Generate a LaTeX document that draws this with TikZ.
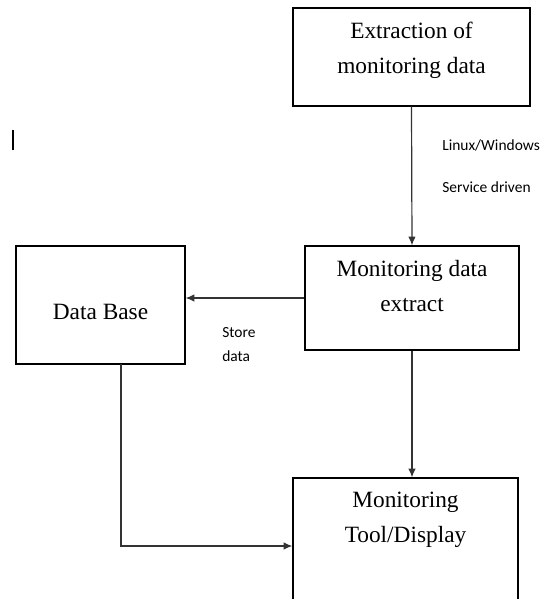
\documentclass[tikz,border=0pt]{standalone}
\usepackage{fontspec}
\setmainfont{Liberation Serif}
\newfontfamily\calibri{Carlito}
\usepackage{tikz}
\usetikzlibrary{calc, arrows.meta}

\begin{document}
\begin{tikzpicture}[x=0.75pt, y=-0.75pt,
    main/.style={draw, rectangle, line width=0.9pt, inner sep=0pt},
    txt/.style={align=center, font=\fontsize{17.5}{26.5}\selectfont, inner sep=0pt},
    lbl/.style={anchor=west, font=\calibri\fontsize{11.6}{18}\selectfont, inner sep=0pt, align=left},
    n/.style={-{Latex[length=6.5pt, width=5.5pt]}, line width=0.9pt, draw=black!80}]
            \useasboundingbox (0,0) rectangle (541,599);
            \clip (0,0) rectangle (541,599);
            % boxes
            \node[main, minimum width=177.75pt, minimum height=73.5pt] (extr) at (411.5,57) {};
            \node[main, minimum width=160.5pt, minimum height=78pt] (mon) at (412,298) {};
            \node[main, minimum width=126.75pt, minimum height=88.5pt] (db) at (100.5,305) {};
            \node[main, minimum width=168.75pt, minimum height=102pt] (disp) at (405.5,546) {};

            % texts
            \node[txt] (extrtxt) at (411.5,50.5) {Extraction of\\monitoring data};
            \node[txt] (montxt) at (412,286) {Monitoring data\\extract};
            \node[txt] (dbtxt) at (100.5,312) {Data Base};
            \node[txt] (disptxt) at (405.5,520) {Monitoring\\Tool/Display};

            \node[lbl] (os) at (442,145) {Linux/Windows};
            \node[lbl] (svc) at (442,187) {Service driven};
            \node[lbl] (store) at (222,345) {Store\\data};

            % cursor mark
            \draw[line width=1.6pt] (13,130) -- (13,150);

            % edges
            \coordinate (dbout) at (121,364);
            \draw [n] (extr.south) -- (mon.north);
            \draw [n] (mon.west) -- (db.east |- mon.west);
            \draw [n] (mon.south) -- (mon.south |- disp.north);
            \draw [n] (dbout) |- (disp.west);
        \end{tikzpicture}
\end{document}
